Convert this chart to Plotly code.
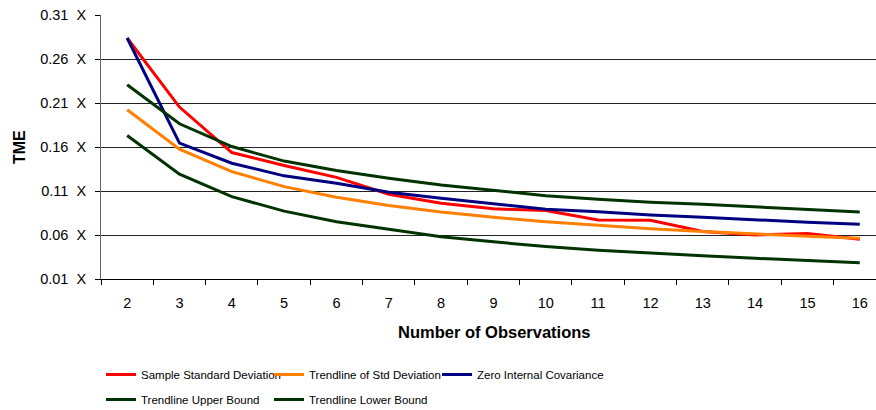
import plotly.graph_objects as go

# Number of observations (category axis)
observations = [str(n) for n in range(2, 17)]

# TME values per series
sample_std = [0.2839, 0.2054, 0.1537, 0.1390, 0.1255, 0.1063, 0.0962, 0.0897,
              0.0877, 0.0771, 0.0767, 0.0640, 0.0600, 0.0618, 0.0553]
trend_std = [0.2023, 0.1576, 0.1320, 0.1150, 0.1028, 0.0935, 0.0861, 0.0801,
             0.0751, 0.0708, 0.0671, 0.0639, 0.0610, 0.0585, 0.0562]
zero_cov = [0.2839, 0.1644, 0.1416, 0.1272, 0.1189, 0.1086, 0.1018, 0.0953,
            0.0893, 0.0865, 0.0828, 0.0802, 0.0771, 0.0744, 0.0722]
upper_bound = [0.2307, 0.1864, 0.1605, 0.1440, 0.1332, 0.1245, 0.1169, 0.1112,
               0.1047, 0.1006, 0.0972, 0.0949, 0.0919, 0.0893, 0.0862]
lower_bound = [0.1730, 0.1291, 0.1036, 0.0871, 0.0751, 0.0665, 0.0581, 0.0522,
               0.0470, 0.0427, 0.0392, 0.0364, 0.0335, 0.0307, 0.0285]

y_ticks = [0.01, 0.06, 0.11, 0.16, 0.21, 0.26, 0.31]
y_tick_text = ["%.2f \u00a0X" % v for v in y_ticks]

W, H = 876, 410
FONT = "Liberation Sans, Arial, sans-serif"

series = [
    ("Sample Standard Deviation", sample_std, "#FF0000", "legend"),
    ("Trendline of Std Deviation", trend_std, "#FF8000", "legend"),
    ("Zero Internal Covariance", zero_cov, "#000080", "legend"),
    ("Trendline Upper Bound", upper_bound, "#003300", "legend2"),
    ("Trendline Lower Bound", lower_bound, "#003300", "legend2"),
]

fig = go.Figure()
for name, vals, color, leg in series:
    fig.add_trace(go.Scatter(
        x=observations, y=vals, name=name, mode="lines",
        line=dict(color=color, width=3),
        legend=leg,
    ))

left, top, bottom = 101, 15, 279

legend_common = dict(
    orientation="h", xref="container", yref="container",
    x=101 / W, xanchor="left", yanchor="top",
    entrywidth=123, font=dict(family=FONT, size=11.5),
    bgcolor="rgba(0,0,0,0)", traceorder="normal",
)

fig.update_layout(
    width=W, height=H,
    margin=dict(l=left, r=0, t=top, b=H - bottom),
    paper_bgcolor="white", plot_bgcolor="white",
    font=dict(family=FONT, size=14, color="black"),
    showlegend=True,
    legend=dict(legend_common, y=1 - 360 / H),
    legend2=dict(legend_common, y=1 - 385 / H),
    xaxis=dict(
        type="category", range=[-0.5, 14.31],
        tickson="boundaries", ticks="outside", ticklen=5, tickcolor="black",
        ticklabelstandoff=11,
        showgrid=False, showline=True, linecolor="black", linewidth=1,
        tickfont=dict(size=14.5), zeroline=False,
    ),
    yaxis=dict(
        range=[0.01, 0.31], tickvals=y_ticks, ticktext=y_tick_text,
        ticks="outside", ticklen=5, tickcolor="black",
        ticklabelstandoff=6,
        showgrid=True, gridcolor="#222222", gridwidth=1,
        showline=True, linecolor="#666666", linewidth=1,
        tickfont=dict(size=14.5), zeroline=False,
    ),
    annotations=[
        dict(text="<b>Number of Observations</b>", xref="paper", yref="paper",
             x=(494 - left) / 775, y=-(332 - bottom) / (bottom - top),
             xanchor="center", yanchor="middle", showarrow=False,
             font=dict(family=FONT, size=16.5)),
        dict(text="<b>TME</b>", xref="paper", yref="paper",
             x=-(left - 19) / 775, y=0.5, textangle=-90,
             xanchor="center", yanchor="middle", showarrow=False,
             font=dict(family=FONT, size=16)),
    ],
)

fig.write_html("out.html")
